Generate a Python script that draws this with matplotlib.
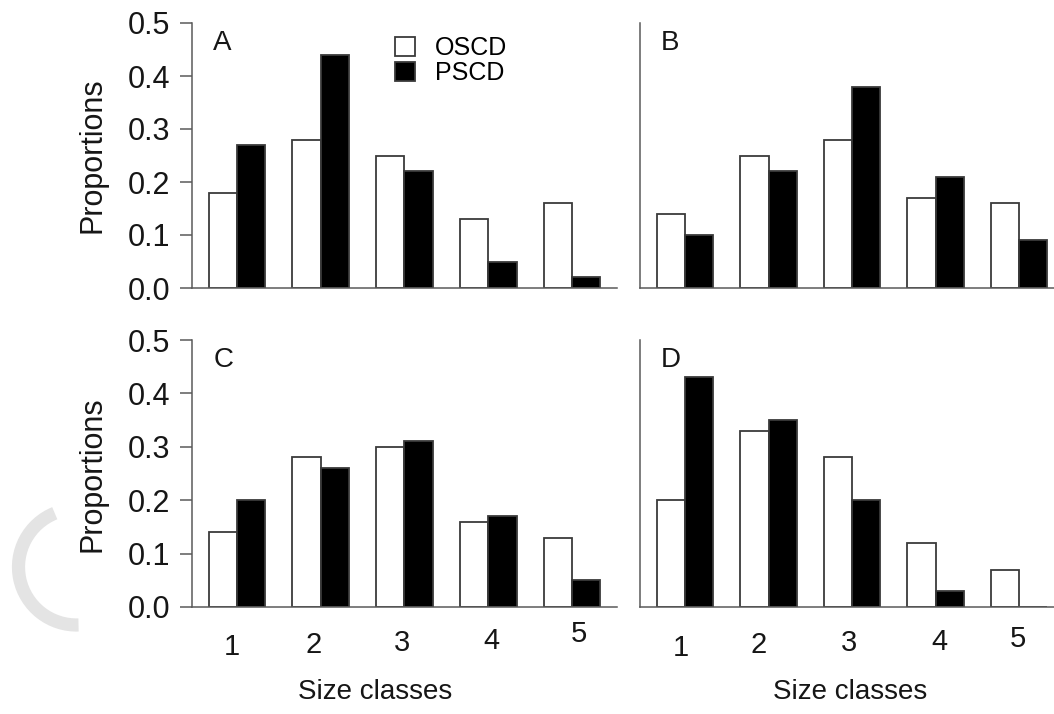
import numpy as np
import matplotlib
matplotlib.use("Agg")
from matplotlib import pyplot as plt
from matplotlib.patches import Patch, Arc
from matplotlib.transforms import blended_transform_factory, IdentityTransform

plt.rcParams['font.family'] = ['Liberation Sans', 'DejaVu Sans']

# data
size_classes = ['1', '2', '3', '4', '5']
a_oscd = [0.18, 0.28, 0.25, 0.13, 0.16]
a_pscd = [0.27, 0.44, 0.22, 0.05, 0.02]
b_oscd = [0.14, 0.25, 0.28, 0.17, 0.16]
b_pscd = [0.10, 0.22, 0.38, 0.21, 0.09]
c_oscd = [0.14, 0.28, 0.30, 0.16, 0.13]
c_pscd = [0.20, 0.26, 0.31, 0.17, 0.05]
d_oscd = [0.20, 0.33, 0.28, 0.12, 0.07]
d_pscd = [0.43, 0.35, 0.20, 0.03, 0.00]
y_ticks = [0.0, 0.1, 0.2, 0.3, 0.4, 0.5]

W, H = 1054, 714
fig = plt.figure(figsize=(W / 100, H / 100), dpi=100)
fig.patch.set_facecolor('white')

# faint watermark arc at the left
arc = Arc((76.5, H - 567), 116, 116, theta1=112, theta2=272,
          transform=IdentityTransform(), color='#e4e4e4', lw=9.5)
fig.patches.append(arc)


def add_px_axes(x0, x1, ytop, ybot):
    return fig.add_axes([x0 / W, (H - ybot) / H, (x1 - x0) / W, (ybot - ytop) / H])


edge = '#3a3a3a'
spine_c = '#5a5a5a'
txt_c = '#161616'
bw = 0.34
x = np.arange(len(size_classes))

panels = [
    ('A', a_oscd, a_pscd, (192, 617, 23, 288), (-0.537, 4.537), True, False),
    ('B', b_oscd, b_pscd, (640, 1054, 23, 288), (-0.539, 4.419), False, False),
    ('C', c_oscd, c_pscd, (192, 617, 340, 607), (-0.537, 4.537), True, True),
    ('D', d_oscd, d_pscd, (640, 1054, 340, 607), (-0.539, 4.419), False, True),
]
# vertical pixel positions of the hand placed x labels
label_y = {'C': [647, 645, 643, 641, 634], 'D': [648, 645, 643, 642, 639]}
label_dx = {'C': [-0.06, -0.08, -0.03, 0.04, 0.08], 'D': [-0.05, -0.12, -0.04, 0.05, -0.01]}

axes = {}
for name, oscd, pscd, box, xl, left, bottom in panels:
    ax = add_px_axes(*box)
    axes[name] = ax
    ax.bar(x - bw / 2, oscd, bw, color='white', edgecolor=edge, linewidth=1.3)
    ax.bar(x + bw / 2, pscd, bw, color='black', edgecolor=edge, linewidth=1.3)
    ax.set_xlim(*xl)
    ax.set_ylim(0, 0.5)
    for s in ['top', 'right']:
        ax.spines[s].set_visible(False)
    for s in ['left', 'bottom']:
        ax.spines[s].set_color(spine_c)
        ax.spines[s].set_linewidth(1.1)
    ax.set_xticks([])
    if left:
        ax.set_yticks(y_ticks)
        ax.set_yticklabels(['%.1f' % v for v in y_ticks], fontsize=22, color=txt_c)
        ax.tick_params(axis='y', length=8.6, width=1.1, color=spine_c, pad=7)
    else:
        ax.set_yticks([])
    ax.text(0.05, 0.925, name, transform=ax.transAxes, fontsize=20,
            ha='left', va='center', color=txt_c)
    if bottom:
        tr = blended_transform_factory(ax.transData, fig.transFigure)
        for i, lab in enumerate(size_classes):
            ax.text(x[i] + label_dx[name][i], (H - label_y[name][i]) / H, lab,
                    transform=tr, fontsize=21, ha='center', va='center',
                    color=txt_c, clip_on=False)

handles = [Patch(facecolor='white', edgecolor=edge, linewidth=1.3, label='OSCD'),
           Patch(facecolor='black', edgecolor=edge, linewidth=1.3, label='PSCD')]
axes['A'].legend(handles=handles, loc='upper left', bbox_to_anchor=(0.478, 0.95),
                 frameon=False, fontsize=18, handlelength=0.8, handleheight=0.8,
                 handletextpad=0.8, labelspacing=0.05, borderpad=0, borderaxespad=0)

fig.text(93 / W, 1 - 155 / H, 'Proportions', rotation=90, fontsize=22,
         ha='center', va='center', color=txt_c)
fig.text(93 / W, 1 - 474 / H, 'Proportions', rotation=90, fontsize=22,
         ha='center', va='center', color=txt_c)
fig.text(375 / W, 1 - 692 / H, 'Size classes', fontsize=20,
         ha='center', va='center', color=txt_c)
fig.text(850 / W, 1 - 692 / H, 'Size classes', fontsize=20,
         ha='center', va='center', color=txt_c)

fig.savefig('out.png', dpi=100, facecolor='white')
